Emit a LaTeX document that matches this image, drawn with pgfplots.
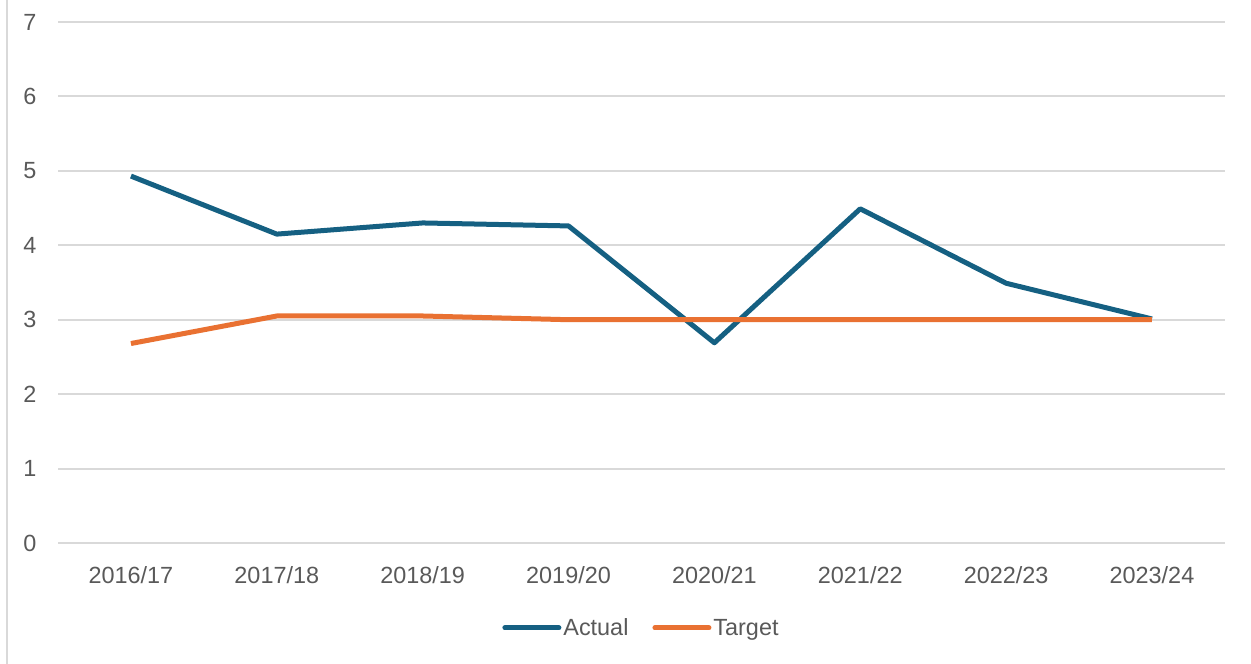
\documentclass[border=0pt]{standalone}
\usepackage{pgfplots}
\pgfplotsset{compat=1.18}
\usepackage{fontspec}
\setmainfont{Liberation Sans}
\definecolor{actual}{HTML}{156082}
\definecolor{target}{HTML}{E97132}
\definecolor{gridc}{HTML}{D9D9D9}
\definecolor{txt}{HTML}{595959}
\begin{document}
\begin{tikzpicture}[x=1bp,y=1bp]
\path[use as bounding box] (0,0) rectangle (1251,664);
\draw[gridc, line width=2bp] (7,0) -- (7,664);
\begin{axis}[
  at={(58bp,121bp)}, anchor=south west,
  scale only axis, width=1167bp, height=521bp,
  xmin=-0.5, xmax=7.5, ymin=0, ymax=7,
  xtick={0,...,7},
  xticklabels={2016/17,2017/18,2018/19,2019/20,2020/21,2021/22,2022/23,2023/24},
  ytick={0,...,7},
  ymajorgrids, grid style={gridc, line width=2bp},
  axis line style={draw=none},
  major tick length=0pt,
  tick label style={font=\fontsize{23.5}{27}\selectfont, text=txt},
  /pgf/number format/assume math mode=true,
  yticklabel style={anchor=center, xshift=-28bp},
  xticklabel style={anchor=center, yshift=-32bp},
  clip=false,
  legend style={at={(0.5,-0.163)}, anchor=center, draw=none, fill=none, legend columns=2,
    font=\fontsize{23.5}{27}\selectfont, text=txt, inner sep=0pt,
    /tikz/every even column/.append style={column sep=22bp}},
  legend image code/.code={\draw[#1, line cap=round] (0bp,0bp) -- (54bp,0bp);},
]
\addplot[actual, line width=5bp, line join=round] coordinates {
 (0,4.93) (1,4.15) (2,4.30) (3,4.26) (4,2.69) (5,4.49) (6,3.49) (7,3.01)};
\addlegendentry{Actual}
\addplot[target, line width=5bp, line join=round] coordinates {
 (0,2.68) (1,3.05) (2,3.05) (3,3.0) (4,3.0) (5,3.0) (6,3.0) (7,3.0)};
\addlegendentry{Target}
\end{axis}
\end{tikzpicture}
\end{document}
